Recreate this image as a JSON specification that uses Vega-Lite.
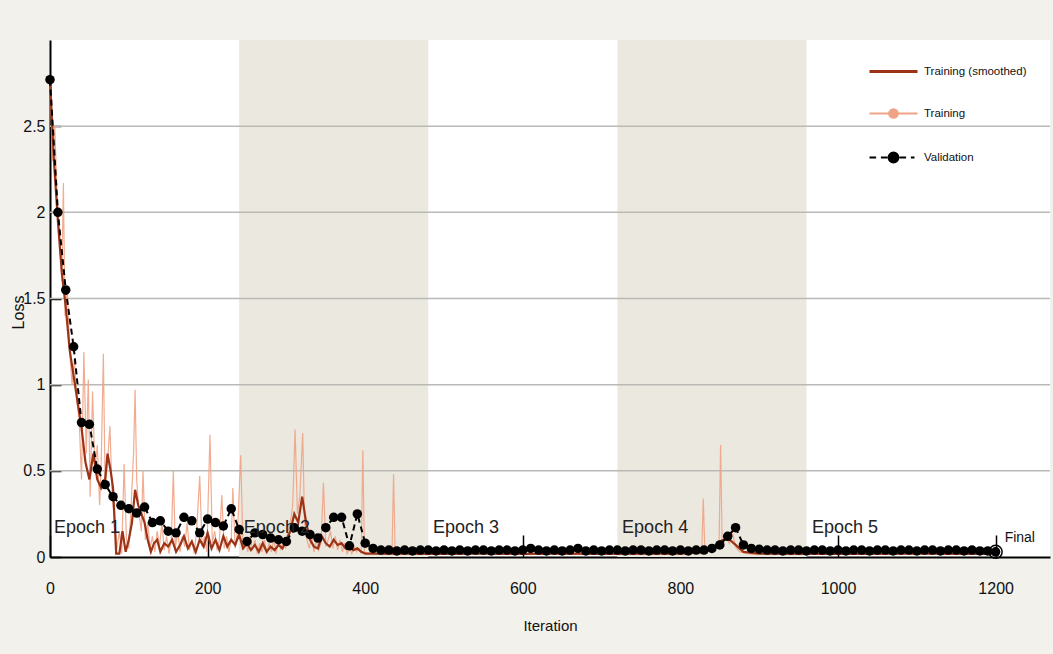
{
"$schema":"https://vega.github.io/schema/vega-lite/v6.json",
"width":1000,"height":517,
"autosize":{"type":"none"},
"padding":{"left":50,"top":40,"right":3,"bottom":97},
"background":"#f3f1ec",
"config":{"view":{"fill":"#ffffff","stroke":null},"font":"Liberation Sans, Arial, sans-serif",
 "legend":{"title":null,"orient":"none","symbolSize":576,"labelOffset":17,"labelFontSize":11.5,"labelColor":"#111","symbolOpacity":1}},
"resolve":{"scale":{"color":"independent"}},
"datasets":{
"bands":[{"x0":240,"x1":480},{"x0":720,"x1":960}],
"grid":[{"loss":0.5},{"loss":1},{"loss":1.5},{"loss":2},{"loss":2.5}],
"raw":[
{"it":0,"loss":2.77},{"it":3,"loss":2.3},{"it":6,"loss":2.5},{"it":9,"loss":2.1},{"it":12,"loss":1.9},{"it":15,"loss":1.6},{"it":17,"loss":2.17},{"it":19,"loss":1.4},{"it":22,"loss":1.55},{"it":25,"loss":1.2},{"it":28,"loss":1.0},{"it":31,"loss":1.15},{"it":34,"loss":0.9},{"it":37,"loss":0.8},{"it":40,"loss":0.45},{"it":43,"loss":1.19},{"it":46,"loss":0.6},{"it":48.6,"loss":1.03},{"it":51,"loss":0.35},{"it":54,"loss":0.96},{"it":57,"loss":0.5},{"it":60,"loss":0.65},{"it":63,"loss":0.3},{"it":65,"loss":0.55},{"it":67.7,"loss":1.18},{"it":70,"loss":0.4},{"it":73,"loss":0.55},{"it":76,"loss":0.76},{"it":79,"loss":0.35},{"it":82,"loss":0.2},{"it":85,"loss":0.05},{"it":88,"loss":0.15},{"it":91,"loss":0.02},{"it":94,"loss":0.54},{"it":97,"loss":0.1},{"it":100,"loss":0.05},{"it":103,"loss":0.3},{"it":106,"loss":0.6},{"it":108,"loss":0.97},{"it":110,"loss":0.45},{"it":113,"loss":0.25},{"it":116,"loss":0.15},{"it":118,"loss":0.5},{"it":121,"loss":0.1},{"it":124,"loss":0.2},{"it":127,"loss":0.05},{"it":130,"loss":0.12},{"it":133,"loss":0.03},{"it":136,"loss":0.15},{"it":139,"loss":0.06},{"it":142,"loss":0.2},{"it":145,"loss":0.04},{"it":148,"loss":0.12},{"it":151,"loss":0.02},{"it":154,"loss":0.1},{"it":156.5,"loss":0.5},{"it":159,"loss":0.05},{"it":162,"loss":0.15},{"it":165,"loss":0.03},{"it":168,"loss":0.12},{"it":171,"loss":0.06},{"it":174,"loss":0.2},{"it":177,"loss":0.04},{"it":180,"loss":0.1},{"it":183,"loss":0.02},{"it":186,"loss":0.15},{"it":190,"loss":0.47},{"it":193,"loss":0.06},{"it":196,"loss":0.12},{"it":199,"loss":0.03},{"it":203,"loss":0.71},{"it":206,"loss":0.08},{"it":209,"loss":0.15},{"it":212,"loss":0.04},{"it":215,"loss":0.1},{"it":218,"loss":0.36},{"it":221,"loss":0.05},{"it":224,"loss":0.12},{"it":227,"loss":0.03},{"it":230,"loss":0.1},{"it":232,"loss":0.4},{"it":235,"loss":0.05},{"it":238,"loss":0.15},{"it":242,"loss":0.59},{"it":245,"loss":0.05},{"it":248,"loss":0.1},{"it":251,"loss":0.03},{"it":254,"loss":0.12},{"it":257,"loss":0.04},{"it":260,"loss":0.1},{"it":263,"loss":0.02},{"it":266,"loss":0.08},{"it":269,"loss":0.03},{"it":272,"loss":0.1},{"it":275,"loss":0.02},{"it":278,"loss":0.08},{"it":281,"loss":0.03},{"it":284,"loss":0.1},{"it":287,"loss":0.02},{"it":290,"loss":0.12},{"it":293,"loss":0.04},{"it":296,"loss":0.1},{"it":299,"loss":0.05},{"it":302,"loss":0.15},{"it":305,"loss":0.2},{"it":308,"loss":0.3},{"it":311,"loss":0.74},{"it":314,"loss":0.25},{"it":317,"loss":0.35},{"it":320.7,"loss":0.72},{"it":323,"loss":0.2},{"it":326,"loss":0.1},{"it":329,"loss":0.05},{"it":332,"loss":0.12},{"it":335,"loss":0.03},{"it":338,"loss":0.1},{"it":341,"loss":0.04},{"it":344,"loss":0.08},{"it":347,"loss":0.43},{"it":350,"loss":0.06},{"it":353,"loss":0.1},{"it":356,"loss":0.15},{"it":359,"loss":0.05},{"it":362,"loss":0.12},{"it":365,"loss":0.04},{"it":368,"loss":0.1},{"it":371,"loss":0.03},{"it":374,"loss":0.08},{"it":377,"loss":0.02},{"it":380,"loss":0.05},{"it":383,"loss":0.02},{"it":386,"loss":0.06},{"it":389,"loss":0.03},{"it":392,"loss":0.05},{"it":395,"loss":0.02},{"it":397,"loss":0.62},{"it":399,"loss":0.03},{"it":405,"loss":0.02},{"it":410,"loss":0.03},{"it":415,"loss":0.015},{"it":420,"loss":0.025},{"it":425,"loss":0.015},{"it":430,"loss":0.02},{"it":434,"loss":0.02},{"it":436,"loss":0.48},{"it":438,"loss":0.02},{"it":445,"loss":0.015},{"it":455,"loss":0.025},{"it":465,"loss":0.015},{"it":475,"loss":0.02},{"it":485,"loss":0.015},{"it":495,"loss":0.025},{"it":505,"loss":0.015},{"it":515,"loss":0.02},{"it":525,"loss":0.015},{"it":535,"loss":0.025},{"it":545,"loss":0.015},{"it":555,"loss":0.02},{"it":565,"loss":0.015},{"it":575,"loss":0.02},{"it":585,"loss":0.015},{"it":595,"loss":0.025},{"it":605,"loss":0.015},{"it":615,"loss":0.02},{"it":625,"loss":0.015},{"it":635,"loss":0.025},{"it":645,"loss":0.015},{"it":655,"loss":0.02},{"it":665,"loss":0.015},{"it":675,"loss":0.025},{"it":685,"loss":0.015},{"it":695,"loss":0.02},{"it":705,"loss":0.015},{"it":715,"loss":0.025},{"it":725,"loss":0.015},{"it":735,"loss":0.02},{"it":745,"loss":0.015},{"it":755,"loss":0.025},{"it":765,"loss":0.015},{"it":775,"loss":0.02},{"it":785,"loss":0.015},{"it":795,"loss":0.025},{"it":805,"loss":0.015},{"it":815,"loss":0.02},{"it":825,"loss":0.02},{"it":827,"loss":0.02},{"it":829,"loss":0.34},{"it":831,"loss":0.03},{"it":840,"loss":0.04},{"it":845,"loss":0.06},{"it":849,"loss":0.05},{"it":851,"loss":0.65},{"it":853,"loss":0.06},{"it":858,"loss":0.12},{"it":862,"loss":0.08},{"it":866,"loss":0.14},{"it":870,"loss":0.06},{"it":875,"loss":0.03},{"it":885,"loss":0.02},{"it":895,"loss":0.015},{"it":905,"loss":0.02},{"it":915,"loss":0.015},{"it":925,"loss":0.025},{"it":935,"loss":0.015},{"it":945,"loss":0.02},{"it":955,"loss":0.015},{"it":965,"loss":0.025},{"it":975,"loss":0.015},{"it":985,"loss":0.02},{"it":995,"loss":0.015},{"it":1005,"loss":0.025},{"it":1015,"loss":0.015},{"it":1025,"loss":0.02},{"it":1035,"loss":0.015},{"it":1045,"loss":0.025},{"it":1055,"loss":0.015},{"it":1065,"loss":0.02},{"it":1075,"loss":0.015},{"it":1085,"loss":0.025},{"it":1095,"loss":0.015},{"it":1105,"loss":0.02},{"it":1115,"loss":0.015},{"it":1125,"loss":0.025},{"it":1135,"loss":0.015},{"it":1145,"loss":0.02},{"it":1155,"loss":0.015},{"it":1165,"loss":0.025},{"it":1175,"loss":0.015},{"it":1185,"loss":0.02},{"it":1195,"loss":0.015},{"it":1200,"loss":0.02}
],
"smooth":[
{"it":0,"loss":2.77},{"it":5,"loss":2.3},{"it":10,"loss":1.95},{"it":15,"loss":1.65},{"it":20,"loss":1.45},{"it":25,"loss":1.2},{"it":30,"loss":1.05},{"it":35,"loss":0.9},{"it":40,"loss":0.75},{"it":45,"loss":0.55},{"it":50,"loss":0.45},{"it":55,"loss":0.6},{"it":60,"loss":0.45},{"it":65,"loss":0.4},{"it":70,"loss":0.45},{"it":73,"loss":0.6},{"it":77,"loss":0.5},{"it":80,"loss":0.4},{"it":84,"loss":0.02},{"it":88,"loss":0.02},{"it":92,"loss":0.15},{"it":96,"loss":0.03},{"it":100,"loss":0.1},{"it":104,"loss":0.2},{"it":108,"loss":0.39},{"it":112,"loss":0.3},{"it":116,"loss":0.25},{"it":120,"loss":0.2},{"it":124,"loss":0.1},{"it":128,"loss":0.03},{"it":132,"loss":0.08},{"it":136,"loss":0.1},{"it":140,"loss":0.03},{"it":145,"loss":0.08},{"it":150,"loss":0.06},{"it":155,"loss":0.1},{"it":160,"loss":0.03},{"it":165,"loss":0.07},{"it":170,"loss":0.12},{"it":175,"loss":0.05},{"it":180,"loss":0.09},{"it":185,"loss":0.03},{"it":190,"loss":0.1},{"it":195,"loss":0.06},{"it":200,"loss":0.14},{"it":205,"loss":0.05},{"it":210,"loss":0.1},{"it":215,"loss":0.04},{"it":220,"loss":0.12},{"it":225,"loss":0.06},{"it":230,"loss":0.1},{"it":235,"loss":0.07},{"it":240,"loss":0.13},{"it":245,"loss":0.05},{"it":250,"loss":0.08},{"it":255,"loss":0.04},{"it":260,"loss":0.07},{"it":265,"loss":0.03},{"it":270,"loss":0.08},{"it":275,"loss":0.03},{"it":280,"loss":0.06},{"it":285,"loss":0.04},{"it":290,"loss":0.07},{"it":295,"loss":0.05},{"it":300,"loss":0.1},{"it":305,"loss":0.15},{"it":310,"loss":0.25},{"it":315,"loss":0.2},{"it":320,"loss":0.35},{"it":325,"loss":0.2},{"it":330,"loss":0.1},{"it":335,"loss":0.06},{"it":340,"loss":0.05},{"it":345,"loss":0.12},{"it":350,"loss":0.08},{"it":355,"loss":0.06},{"it":360,"loss":0.1},{"it":365,"loss":0.07},{"it":370,"loss":0.08},{"it":375,"loss":0.05},{"it":380,"loss":0.06},{"it":385,"loss":0.04},{"it":390,"loss":0.05},{"it":395,"loss":0.03},{"it":400,"loss":0.02},{"it":450,"loss":0.02},{"it":500,"loss":0.018},{"it":550,"loss":0.02},{"it":600,"loss":0.018},{"it":650,"loss":0.02},{"it":700,"loss":0.018},{"it":750,"loss":0.02},{"it":800,"loss":0.02},{"it":830,"loss":0.03},{"it":840,"loss":0.05},{"it":850,"loss":0.09},{"it":860,"loss":0.11},{"it":870,"loss":0.07},{"it":880,"loss":0.03},{"it":900,"loss":0.02},{"it":1000,"loss":0.018},{"it":1100,"loss":0.02},{"it":1200,"loss":0.018}
],
"val":[
{"it":0,"loss":2.77},{"it":10,"loss":2.0},{"it":20,"loss":1.55},{"it":30,"loss":1.22},{"it":40,"loss":0.78},{"it":50,"loss":0.77},{"it":60,"loss":0.51},{"it":70,"loss":0.42},{"it":80,"loss":0.35},{"it":90,"loss":0.3},{"it":100,"loss":0.28},{"it":110,"loss":0.255},{"it":120,"loss":0.29},{"it":130,"loss":0.2},{"it":140,"loss":0.21},{"it":150,"loss":0.15},{"it":160,"loss":0.14},{"it":170,"loss":0.23},{"it":180,"loss":0.21},{"it":190,"loss":0.14},{"it":200,"loss":0.22},{"it":210,"loss":0.2},{"it":220,"loss":0.18},{"it":230,"loss":0.28},{"it":240,"loss":0.16},{"it":250,"loss":0.09},{"it":260,"loss":0.14},{"it":270,"loss":0.13},{"it":280,"loss":0.11},{"it":290,"loss":0.1},{"it":300,"loss":0.09},{"it":310,"loss":0.17},{"it":320,"loss":0.15},{"it":330,"loss":0.13},{"it":340,"loss":0.11},{"it":350,"loss":0.17},{"it":360,"loss":0.23},{"it":370,"loss":0.23},{"it":380,"loss":0.065},{"it":390,"loss":0.25},{"it":400,"loss":0.08},{"it":410,"loss":0.05},{"it":420,"loss":0.04},{"it":430,"loss":0.04},{"it":440,"loss":0.035},{"it":450,"loss":0.04},{"it":460,"loss":0.035},{"it":470,"loss":0.04},{"it":480,"loss":0.04},{"it":490,"loss":0.035},{"it":500,"loss":0.04},{"it":510,"loss":0.035},{"it":520,"loss":0.04},{"it":530,"loss":0.035},{"it":540,"loss":0.04},{"it":550,"loss":0.04},{"it":560,"loss":0.035},{"it":570,"loss":0.04},{"it":580,"loss":0.04},{"it":590,"loss":0.035},{"it":600,"loss":0.04},{"it":610,"loss":0.05},{"it":620,"loss":0.04},{"it":630,"loss":0.035},{"it":640,"loss":0.04},{"it":650,"loss":0.035},{"it":660,"loss":0.04},{"it":670,"loss":0.05},{"it":680,"loss":0.035},{"it":690,"loss":0.04},{"it":700,"loss":0.035},{"it":710,"loss":0.04},{"it":720,"loss":0.04},{"it":730,"loss":0.035},{"it":740,"loss":0.04},{"it":750,"loss":0.04},{"it":760,"loss":0.035},{"it":770,"loss":0.04},{"it":780,"loss":0.04},{"it":790,"loss":0.035},{"it":800,"loss":0.04},{"it":810,"loss":0.035},{"it":820,"loss":0.04},{"it":830,"loss":0.04},{"it":840,"loss":0.05},{"it":850,"loss":0.07},{"it":860,"loss":0.12},{"it":870,"loss":0.17},{"it":880,"loss":0.07},{"it":890,"loss":0.05},{"it":900,"loss":0.045},{"it":910,"loss":0.04},{"it":920,"loss":0.04},{"it":930,"loss":0.035},{"it":940,"loss":0.04},{"it":950,"loss":0.04},{"it":960,"loss":0.035},{"it":970,"loss":0.04},{"it":980,"loss":0.04},{"it":990,"loss":0.035},{"it":1000,"loss":0.04},{"it":1010,"loss":0.035},{"it":1020,"loss":0.04},{"it":1030,"loss":0.04},{"it":1040,"loss":0.035},{"it":1050,"loss":0.04},{"it":1060,"loss":0.04},{"it":1070,"loss":0.035},{"it":1080,"loss":0.04},{"it":1090,"loss":0.04},{"it":1100,"loss":0.035},{"it":1110,"loss":0.04},{"it":1120,"loss":0.04},{"it":1130,"loss":0.035},{"it":1140,"loss":0.04},{"it":1150,"loss":0.04},{"it":1160,"loss":0.035},{"it":1170,"loss":0.04},{"it":1180,"loss":0.035},{"it":1190,"loss":0.035},{"it":1200,"loss":0.03}
],
"epochs":[{"it":5,"loss":0.17,"label":"Epoch 1"},{"it":246,"loss":0.17,"label":"Epoch 2"},{"it":486,"loss":0.17,"label":"Epoch 3"},{"it":726,"loss":0.17,"label":"Epoch 4"},{"it":967,"loss":0.17,"label":"Epoch 5"}],
"final":[{"it":1200,"loss":0.03,"label":"Final"}]
},
"layer":[
{"data":{"name":"bands"},"mark":{"type":"rect","color":"#ebe8df"},
 "encoding":{"x":{"field":"x0","type":"quantitative","scale":{"domain":[0,1269],"nice":false,"zero":false},
   "axis":{"title":"Iteration","values":[0,200,400,600,800,1000,1200],"format":"d","labelFlush":false,"grid":false,"domainColor":"#000","domainWidth":2,"tickColor":"#000","tickWidth":1.5,"tickSize":-22,"labelPadding":45,"labelFontSize":16,"labelColor":"#111","titleFontSize":15,"titleFontWeight":"normal","titleColor":"#111","titlePadding":22}},
  "x2":{"field":"x1"}}},
{"data":{"name":"grid"},"mark":{"type":"rule","color":"#b9b9b6","strokeWidth":1.5},
 "encoding":{"y":{"field":"loss","type":"quantitative","scale":{"domain":[0,3],"nice":false},
   "axis":{"title":"Loss","values":[0,0.5,1,1.5,2,2.5],"format":".1~f","labelFlush":false,"grid":false,"domainColor":"#000","domainWidth":2,"tickColor":"#000","tickWidth":1.5,"tickSize":-11,"labelPadding":16,"labelFontSize":16,"labelColor":"#111","titleFontSize":16,"titleFontWeight":"normal","titleColor":"#111","titleX":-24,"titleY":272}}}},
{"data":{"name":"raw"},"mark":{"type":"line","strokeWidth":1.2,"opacity":0.9},
 "transform":[{"calculate":"'Training'","as":"series"}],
 "encoding":{"x":{"field":"it","type":"quantitative"},"y":{"field":"loss","type":"quantitative"},
  "color":{"field":"series","type":"nominal","scale":{"domain":["Training"],"range":["#f0a385"]},
   "legend":{"legendX":830,"legendY":60,"symbolType":"M-2,0H2M-0.35,0A0.35,0.35,0,1,0,0.35,0A0.35,0.35,0,1,0,-0.35,0Z","symbolFillColor":"#f0a385","symbolStrokeColor":"#d9a88e","symbolStrokeWidth":2.2}}}},
{"data":{"name":"smooth"},"mark":{"type":"line","strokeWidth":2.2},
 "transform":[{"calculate":"'Training (smoothed)'","as":"series"}],
 "encoding":{"x":{"field":"it","type":"quantitative"},"y":{"field":"loss","type":"quantitative"},
  "color":{"field":"series","type":"nominal","scale":{"domain":["Training (smoothed)"],"range":["#9c3316"]},
   "legend":{"legendX":830,"legendY":18,"symbolType":"M-2,0H2","symbolStrokeColor":"#6e2810","symbolStrokeWidth":3}}}},
{"data":{"name":"val"},"mark":{"type":"line","strokeWidth":2,"strokeDash":[6,4],"point":{"filled":true,"size":90,"opacity":1}},
 "transform":[{"calculate":"'Validation'","as":"series"}],
 "encoding":{"x":{"field":"it","type":"quantitative"},"y":{"field":"loss","type":"quantitative"},
  "color":{"field":"series","type":"nominal","scale":{"domain":["Validation"],"range":["#000000"]},
   "legend":{"legendX":830,"legendY":104,"symbolType":"M-2,0H-1.45M-1.05,0H-0.5M0.5,0H1.05M1.45,0H1.75M-0.4,0A0.4,0.4,0,1,0,0.4,0A0.4,0.4,0,1,0,-0.4,0Z","symbolFillColor":"#000000","symbolStrokeColor":"#000000","symbolStrokeWidth":2.2}}}},
{"data":{"name":"final"},"mark":{"type":"point","filled":false,"size":170,"color":"#000","strokeWidth":1.5,"opacity":1},
 "encoding":{"x":{"field":"it","type":"quantitative"},"y":{"field":"loss","type":"quantitative"}}},
{"data":{"name":"final"},"mark":{"type":"text","align":"left","baseline":"middle","dx":9,"dy":-14,"fontSize":14,"color":"#111"},
 "encoding":{"x":{"field":"it","type":"quantitative"},"y":{"field":"loss","type":"quantitative"},"text":{"field":"label"}}},
{"data":{"name":"epochs"},"mark":{"type":"text","align":"left","baseline":"middle","fontSize":18,"color":"#222"},
 "encoding":{"x":{"field":"it","type":"quantitative"},"y":{"field":"loss","type":"quantitative"},"text":{"field":"label"}}}
]
}
